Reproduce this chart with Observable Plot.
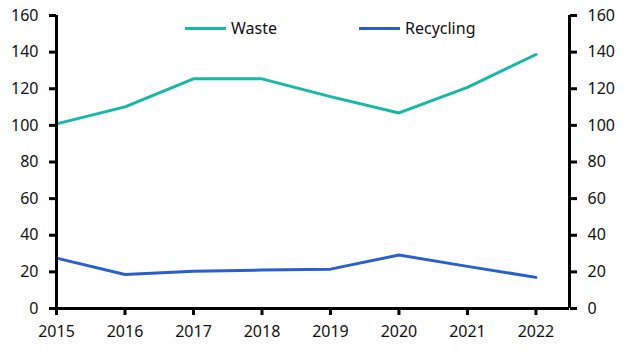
<!DOCTYPE html>
<html>
<head>
<meta charset="utf-8">
<script src="https://cdn.jsdelivr.net/npm/d3@7"></script>
<script src="https://cdn.jsdelivr.net/npm/@observablehq/plot@0.6"></script>
<style>
  html, body { margin: 0; padding: 0; background: #fff; }
  #wrap { position: relative; width: 630px; height: 354px; font-family: "Noto Sans", sans-serif; }
  .leg { position: absolute; top: 17px; display: flex; align-items: center; font-size: 16px; color: #111; }
  .leg span.sw { display: inline-block; width: 41px; height: 3px; margin-right: 5px; }
</style>
</head>
<body>
<div id="wrap"></div>
<script>
const years = [2015, 2016, 2017, 2018, 2019, 2020, 2021, 2022];
const waste = [100.8, 110.1, 125.4, 125.4, 115.7, 106.8, 120.8, 138.7];
const recycling = [27.5, 18.6, 20.4, 21.0, 21.5, 29.2, 23.0, 17.0];
const seriesNames = ["Waste", "Recycling"];
const seriesColors = ["#17b8a6", "#2a5fd0"];
const yTicks = [0, 20, 40, 60, 80, 100, 120, 140, 160];

const data = [];
years.forEach((y, i) => {
  data.push({year: y, value: waste[i], series: seriesNames[0]});
  data.push({year: y, value: recycling[i], series: seriesNames[1]});
});

const xDomain = [2015, 2022.49];
const yDomain = [0, 160];

const chart = Plot.plot({
  width: 630,
  height: 354,
  marginLeft: 56,
  marginRight: 61,
  marginTop: 15,
  marginBottom: 46,
  style: {fontFamily: "Noto Sans, sans-serif", fontSize: "16px", color: "#111", background: "#fff"},
  x: {domain: xDomain},
  y: {domain: yDomain},
  color: {domain: seriesNames, range: seriesColors},
  marks: [
    Plot.axisY({anchor: "left", ticks: yTicks, tickSize: 7, tickPadding: 11, strokeWidth: 3, stroke: "#000", label: null}),
    Plot.axisY({anchor: "right", ticks: yTicks, tickSize: 7, tickPadding: 11, strokeWidth: 3, stroke: "#000", label: null}),
    Plot.axisX({ticks: years, tickSize: 7, tickPadding: 10, strokeWidth: 3, stroke: "#000", tickFormat: d => String(d), label: null}),
    Plot.line(data, {x: "year", y: "value", stroke: "series", strokeWidth: 3, z: "series"}),
    Plot.ruleX([xDomain[0], xDomain[1]], {stroke: "#000", strokeWidth: 3}),
    Plot.ruleY([yDomain[0]], {stroke: "#000", strokeWidth: 3})
  ]
});

const wrap = document.getElementById("wrap");
wrap.appendChild(chart);

const legPos = [185, 359];
seriesNames.forEach((name, i) => {
  const d = document.createElement("div");
  d.className = "leg";
  d.style.left = legPos[i] + "px";
  d.innerHTML = `<span class="sw" style="background:${seriesColors[i]}"></span><span>${name}</span>`;
  wrap.appendChild(d);
});
</script>
</body>
</html>
